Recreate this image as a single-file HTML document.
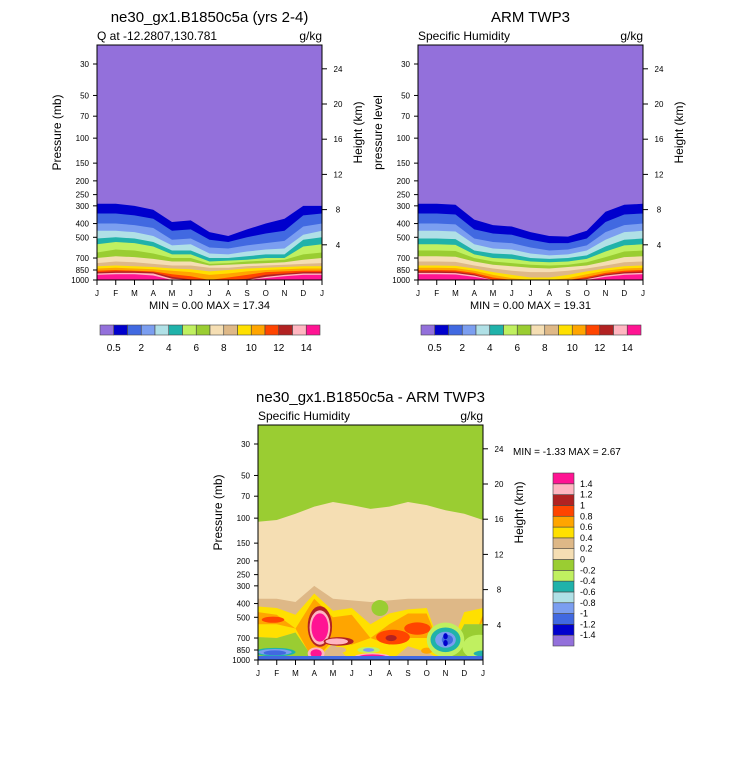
<!DOCTYPE html>
<html><head><meta charset="utf-8"><style>
body{margin:0;background:#fff}
svg text{font-family:"Liberation Sans",Arial,sans-serif;fill:#000}
</style></head><body>
<svg id="s" width="733" height="768" xmlns="http://www.w3.org/2000/svg"></svg>
<script>
const months=["J","F","M","A","M","J","J","A","S","O","N","D","J"];
const pTicks=[30,50,70,100,150,200,250,300,400,500,700,850,1000];
const hTicks=[4,8,12,16,20,24];
const qColors=["#9370DB","#0000CD","#4169E1","#7B9EF0","#B0E0E6","#20B2AA","#C0F060","#9ACD32","#F5DEB3","#DEB887","#FFE000","#FFA500","#FF4500","#B22222","#FFB6C1","#FF1493"];
const qLabels=["0.5","2","4","6","8","10","12","14"];
const dLabels=["-1.4","-1.2","-1","-0.8","-0.6","-0.4","-0.2","0","0.2","0.4","0.6","0.8","1","1.2","1.4"];
const modelLev=[
[290,290,300,320,390,380,460,490,440,400,370,300,300],
[340,340,350,370,450,440,520,540,500,470,450,350,340],
[400,400,410,430,520,510,590,600,570,550,530,420,400],
[450,450,460,490,570,560,650,660,630,610,600,480,450],
[510,500,510,540,620,620,700,700,680,660,660,520,500],
[560,540,550,580,660,660,740,730,720,700,700,580,560],
[640,610,620,650,700,700,770,760,740,730,720,660,640],
[700,680,690,710,740,740,790,780,770,760,750,720,700],
[760,740,750,770,790,790,820,820,800,790,780,770,760],
[800,790,800,810,830,840,870,850,830,820,810,800,800],
[830,820,830,840,860,880,920,900,870,850,840,830,830],
[860,850,860,870,910,940,1000,960,920,880,870,860,860],
[880,870,870,880,950,990,1000,1000,980,920,900,880,880],
[900,890,890,900,980,1000,1000,1000,1000,950,920,900,900],
[920,910,910,930,1000,1000,1000,1000,1000,970,940,920,920]];
const obsLev=[
[290,290,295,375,410,420,460,490,495,450,330,295,290],
[340,340,345,440,470,480,520,550,550,510,390,345,340],
[400,400,405,510,540,550,590,620,610,570,460,410,400],
[450,450,455,560,600,610,650,670,660,620,520,460,450],
[510,510,515,620,650,660,700,710,700,670,580,520,510],
[560,560,565,660,700,710,740,750,740,710,630,570,560],
[620,620,625,700,740,760,780,790,780,750,690,630,620],
[680,680,685,740,780,800,820,830,810,790,740,690,680],
[740,740,745,790,830,860,880,880,860,830,790,750,740],
[790,790,795,830,880,920,960,960,920,870,830,800,790],
[820,820,825,860,920,970,1000,1000,970,910,860,830,820],
[850,850,855,890,960,1000,1000,1000,1000,950,890,860,850],
[870,870,875,910,1000,1000,1000,1000,1000,970,910,880,870],
[890,890,895,930,1000,1000,1000,1000,1000,985,930,900,890],
[910,910,915,950,1000,1000,1000,1000,1000,1000,950,920,910]];
// difference panel bands: [top pressures, bottom pressures, color index]
const diffGreenTop=[106,103,93,83,77,81,86,83,77,81,88,93,103];
const diffTanTop=[370,370,390,300,370,380,390,380,370,370,370,370,370];
const diffTanBot=[1000,1000,1000,1000,1000,1000,1000,1000,1000,1000,1000,1000,1000];
const diffYellowTop=[420,430,480,340,450,430,560,470,440,430,1000,460,430];
const diffYellowBot=[690,700,640,1000,760,1000,1000,1000,800,880,1000,560,560];
const diffOrangeTop=[460,480,600,370,500,480,700,560,470,470,1000,1000,480];
const diffOrangeBot=[560,560,600,1000,720,780,700,780,700,700,1000,1000,520];
const diffLowGreenTop=[690,700,640,1000,1000,1000,1000,1000,1000,1000,1000,560,560];
const diffBlobs=[ // month, pressure, monthRadius, lnP radius, colorIndex
[0.8,520,0.6,0.05,12],[3.3,580,0.65,0.33,13],[3.3,590,0.55,0.28,14],[3.3,590,0.45,0.23,15],
[4.3,740,0.8,0.07,13],[4.2,740,0.6,0.05,14],
[3.1,900,0.45,0.1,14],[3.1,900,0.3,0.07,15],[6.1,960,1.0,0.07,14],[6.1,960,0.8,0.05,15],
[7.2,690,0.9,0.12,12],[7.1,700,0.3,0.05,13],[8.5,600,0.7,0.1,12],[9.0,860,0.3,0.05,11],
[6.5,430,0.45,0.13,7],[10.0,720,1.0,0.28,6],[10.0,720,0.8,0.2,5],[10.0,720,0.55,0.13,3],[10.1,720,0.3,0.08,2],[10.0,680,0.12,0.05,1],[10.0,760,0.12,0.05,1],
[0.9,880,1.1,0.07,5],[0.9,880,0.9,0.05,3],[0.9,890,0.6,0.04,2],[5.9,850,0.6,0.05,6],[5.9,850,0.3,0.03,3],
[11.8,810,0.9,0.2,6],[12.1,900,0.6,0.05,5],[4.3,850,0.4,0.05,9]];
const S=document.getElementById('s');const NS="http://www.w3.org/2000/svg";
function mk(t,a,parent){const e=document.createElementNS(NS,t);for(const k in a)e.setAttribute(k,a[k]);(parent||S).appendChild(e);return e;}
function txt(x,y,s,size,anchor,parent,rot){const e=mk('text',{x:x,y:y,'font-size':size,'text-anchor':anchor||'middle'},parent);if(rot)e.setAttribute('transform','rotate(-90 '+x+' '+y+')');e.textContent=s;return e;}
function panel(x0,y0,name,title,sub,ylab,lev,minmax,diff){
  const W=225,H=235,top=y0,bot=y0+H;
  const g=mk('g',{});
  
  
  const xs=i=>x0+i*W/12;
  const yp=p=>bot-61.6*Math.log(1000/p);
  const clip='c'+name;const cp=mk('clipPath',{id:clip},g);mk('rect',{x:x0,y:top,width:W,height:H},cp);
  const pg=mk('g',{'clip-path':'url(#'+clip+')'},g);
  function band(tp,bp,c){let d='';tp.forEach((p,i)=>{d+=(i?'L':'M')+xs(i)+','+yp(Math.min(p,1000));});
    for(let i=12;i>=0;i--){const b=bp?bp[i]:1000;const t=Math.min(tp[i],1000);d+='L'+xs(i)+','+(b>=1000?bot+2:yp(Math.max(b,t)));}
    const e=mk('path',{d:d+'Z',fill:qColors[c]},pg);}
  if(!diff){
    mk('rect',{x:x0,y:top,width:W,height:H,fill:qColors[0]},pg);
    lev.forEach((arr,k)=>band(arr,null,k+1));
  }else{
    mk('rect',{x:x0,y:top,width:W,height:H,fill:qColors[7]},pg);
    band(diffGreenTop,null,8);
    band(diffTanTop,diffTanBot,9);
    band(diffYellowTop,diffYellowBot,10);
    band(diffOrangeTop,diffOrangeBot,11);
    band(diffLowGreenTop,null,7);
    diffBlobs.forEach(b=>{const cy=yp(b[1]);const ry=61.6*b[3];
      const e=mk('ellipse',{cx:xs(b[0]),cy:cy,rx:b[2]*W/12,ry:ry,fill:qColors[b[4]]},pg);});
    mk('rect',{x:x0,y:bot-4,width:W,height:4,fill:'#4169E1'},pg);
  }
  mk('rect',{x:x0,y:top,width:W,height:H,fill:'none',stroke:'#000','stroke-width':1},g);
  pTicks.forEach(p=>{const y=yp(p);mk('line',{x1:x0-4,x2:x0,y1:y,y2:y,stroke:'#000'},g);txt(x0-8,y+3,String(p),8,'end',g);});
  hTicks.forEach(h=>{const y=bot-61.6*h/7.0;mk('line',{x1:x0+W,x2:x0+W+5,y1:y,y2:y,stroke:'#000'},g);txt(x0+W+16,y+3,String(h),8,'middle',g);});
  months.forEach((m,i)=>{mk('line',{x1:xs(i),x2:xs(i),y1:bot,y2:bot+5,stroke:'#000'},g);txt(xs(i),bot+16,m,8,'middle',g);});
  const t=txt(x0+W/2,y0-23,title,15,'middle',g);
  txt(x0,y0-5,sub,12,'start',g);txt(x0+W,y0-5,'g/kg',12,'end',g);
  const yl=txt(x0-36,top+H/2-30,ylab,12,'middle',g,true);
  const hl=txt(x0+W+40,top+H/2-30,'Height (km)',12,'middle',g,true);
  if(minmax&&!diff)txt(x0+W/2,bot+29,minmax,11,'middle',g);
  return g;
}
panel(97,45,'model-panel','ne30_gx1.B1850c5a (yrs 2-4)','Q at -12.2807,130.781','Pressure (mb)',modelLev,'MIN =   0.00 MAX =  17.34');
panel(418,45,'obs-panel','ARM TWP3','Specific Humidity','pressure level',obsLev,'MIN =   0.00 MAX =  19.31');
panel(258,425,'diff-panel','ne30_gx1.B1850c5a - ARM TWP3','Specific Humidity','Pressure (mb)',null,null,true);
txt(513,455,'MIN =  -1.33 MAX =   2.67',10,'start');
function hbar(x0,name){const g=mk('g',{});
  const w=220/16;qColors.forEach((c,i)=>mk('rect',{x:x0+i*w,y:325,width:w,height:10,fill:c,stroke:'#444','stroke-width':0.6},g));
  qLabels.forEach((l,i)=>txt(x0+(1+2*i)*w,351,l,10,'middle',g));}
hbar(100,'colorbar-model');hbar(421,'colorbar-obs');
(function(){const g=mk('g',{});
  const h=173/16;qColors.forEach((c,i)=>mk('rect',{x:553,y:473+(15-i)*h,width:21,height:h,fill:c,stroke:'#444','stroke-width':0.6},g));
  dLabels.forEach((l,i)=>txt(580,473+(15-i)*h+3,l,9,'start',g));})();
</script>
</body></html>
